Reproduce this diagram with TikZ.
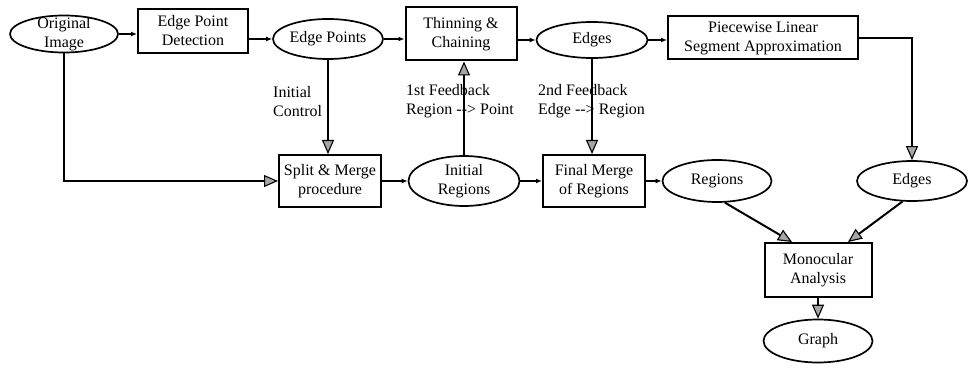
\documentclass[tikz,border=0pt]{standalone}
\usepackage{fontspec}
\setmainfont{Liberation Serif}
\usetikzlibrary{shapes.geometric,arrows.meta}

\tikzset{
  box/.style={draw, line width=2pt, rectangle, inner sep=0pt, align=center},
  oval/.style={draw, line width=1.7pt, ellipse, inner sep=-4pt, align=center},
  lbl/.style={inner sep=0pt, align=left, anchor=west},
  small/.style={line width=1.6pt, -{Latex[length=6pt,width=5pt]}},
  big/.style={line width=2pt, -{Triangle[length=14pt,width=12pt,fill=gray!70,line width=1.1pt]}},
}

\begin{document}
\begin{tikzpicture}[x=1pt,y=-1pt,every node/.style={font=\fontsize{16}{19}\selectfont}]
	\useasboundingbox (0,0) rectangle (977,377);
	\node (OI) [oval, minimum width=108pt, minimum height=37pt] at (64,34) {Original\\Image};
	\node (EPD) [box, minimum width=110pt, minimum height=44pt] at (193,31) {Edge Point\\Detection};
	\node (EP) [oval, minimum width=110pt, minimum height=40pt] at (328,39) {Edge Points};
	\node (TC) [box, minimum width=111pt, minimum height=53pt] at (461,34) {Thinning \&\\Chaining};
	\node (E1) [oval, minimum width=111pt, minimum height=36pt] at (592,40) {Edges};
	\node (PW) [box, minimum width=190pt, minimum height=43pt] at (763,38) {Piecewise Linear\\Segment Approximation};
	\node (SM) [box, minimum width=102pt, minimum height=52pt] at (330,181) {Split \& Merge\\procedure};
	\node (IR) [oval, minimum width=111pt, minimum height=50pt] at (464,181) {Initial\\Regions};
	\node (FM) [box, minimum width=102pt, minimum height=52pt] at (594,181) {Final Merge\\of Regions};
	\node (R) [oval, minimum width=109pt, minimum height=42pt] at (717,181) {Regions};
	\node (E2) [oval, minimum width=110pt, minimum height=40pt] at (912,181) {Edges};
	\node (M) [box, minimum width=107pt, minimum height=54pt] at (818,270) {Monocular\\Analysis};
	\node (G) [oval, minimum width=109pt, minimum height=43pt] at (818,341) {Graph};

	\node (L1) [lbl] at (273,102) {Initial\\Control};
	\node (L2) [lbl] at (406,101) {1st Feedback\\Region -{}-{}> Point};
	\node (L3) [lbl] at (538,101) {2nd Feedback\\Edge -{}-{}> Region};

	\draw [small] (OI.east) -- (OI.east -| EPD.west);
	\draw [small] (EP.west -| EPD.east) -- (EP.west);
	\draw [small] (EP.east) -- (EP.east -| TC.west);
	\draw [small] (E1.west -| TC.east) -- (E1.west);
	\draw [small] (E1.east) -- (E1.east -| PW.west);
	\draw [big] (PW.east) -| (E2.north);
	\draw [big] (OI.south) |- (SM.west);
	\draw [big] (EP.south) -- (EP.south |- SM.north);
	\draw [small] (IR.west -| SM.east) -- (IR.west);
	\draw [small] (IR.east) -- (IR.east -| FM.west);
	\draw [big] (IR.north) -- (IR.north |- TC.south);
	\draw [big] (E1.south) -- (E1.south |- FM.north);
	\draw [small] (R.west -| FM.east) -- (R.west);
	\draw [big] (R.-70) -- ([xshift=-26pt]M.north);
	\draw [big] (E2.-115) -- ([xshift=30pt]M.north);
	\draw [big] (M.south) -- (G.north);
\end{tikzpicture}
\end{document}
